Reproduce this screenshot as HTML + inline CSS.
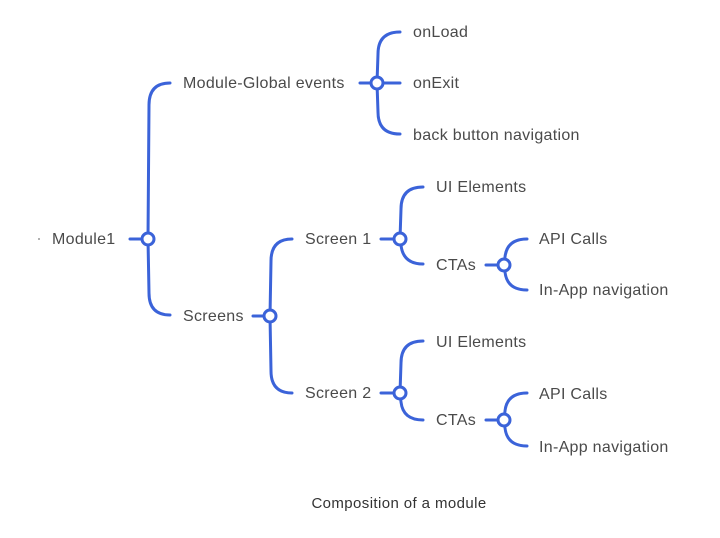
<!DOCTYPE html>
<html><head><meta charset="utf-8"><style>
html,body{margin:0;padding:0;background:#fff;}
svg{display:block;}
text{font-family:"Liberation Sans",sans-serif;font-size:16px;letter-spacing:0.3px;fill:#4a4a4a;}
</style></head><body>
<svg width="720" height="538" viewBox="0 0 720 538" xmlns="http://www.w3.org/2000/svg">
<g fill="none" stroke="#3b63d9" stroke-width="3" stroke-linecap="round">
<path d="M130 239 L142 239"/>
<path d="M148 239 L149 105 Q149 83 170 83"/>
<path d="M148 239 L149 293 Q149 315 170 315"/>
<path d="M360 83 L371 83"/>
<path d="M377 83 L378 54 Q378 32 400 32"/>
<path d="M383 83 L400 83"/>
<path d="M377 83 L378 112 Q378 134 400 134"/>
<path d="M253 316 L264 316"/>
<path d="M270 316 L271 261 Q271 239 292 239"/>
<path d="M270 316 L271 371 Q271 393 292 393"/>
<path d="M381 239 L394 239"/>
<path d="M400 239 L401 209 Q401 187 423 187"/>
<path d="M400 239 L401 245 Q403 264 423 264"/>
<path d="M486 265 L498 265"/>
<path d="M504 265 L505 257 Q507 239 527 239"/>
<path d="M504 265 L505 272 Q507 290 527 290"/>
<path d="M381 393 L394 393"/>
<path d="M400 393 L401 363 Q401 341 423 341"/>
<path d="M400 393 L401 402 Q403 420 423 420"/>
<path d="M486 420 L498 420"/>
<path d="M504 420 L505 411 Q507 393 527 393"/>
<path d="M504 420 L505 428 Q507 446 527 446"/>
</g>
<g fill="#fff" stroke="#3b63d9" stroke-width="3">
<circle cx="148" cy="239" r="6"/>
<circle cx="377" cy="83" r="6"/>
<circle cx="270" cy="316" r="6"/>
<circle cx="400" cy="239" r="6"/>
<circle cx="504" cy="265" r="6"/>
<circle cx="400" cy="393" r="6"/>
<circle cx="504" cy="420" r="6"/>
</g>
<circle cx="39" cy="239" r="1" fill="#999"/>
<text x="52" y="244">Module1</text>
<text x="183" y="88">Module-Global events</text>
<text x="183" y="321">Screens</text>
<text x="413" y="37">onLoad</text>
<text x="413" y="88">onExit</text>
<text x="413" y="140">back button navigation</text>
<text x="305" y="244">Screen 1</text>
<text x="305" y="398">Screen 2</text>
<text x="436" y="192">UI Elements</text>
<text x="436" y="270">CTAs</text>
<text x="436" y="347">UI Elements</text>
<text x="436" y="425">CTAs</text>
<text x="539" y="244">API Calls</text>
<text x="539" y="295">In-App navigation</text>
<text x="539" y="399">API Calls</text>
<text x="539" y="452">In-App navigation</text>
<text x="399" y="508" text-anchor="middle" style="font-size:15px;letter-spacing:0.4px;fill:#333">Composition of a module</text>
</svg>
</body></html>
